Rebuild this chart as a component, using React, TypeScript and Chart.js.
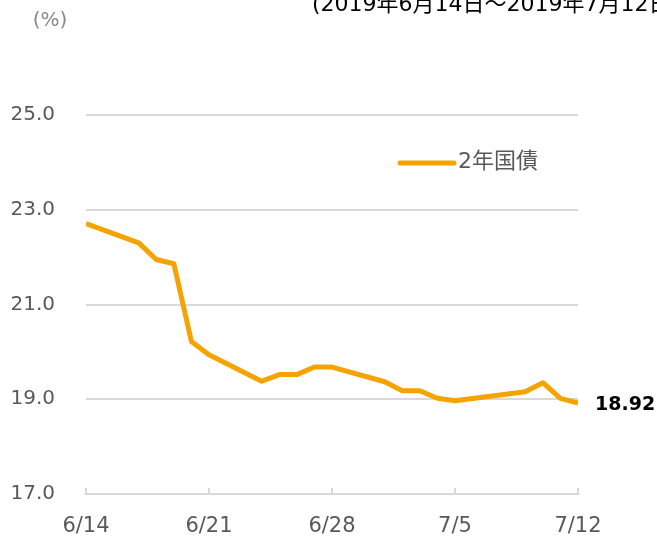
import React, { useEffect, useRef } from "react";
import { Chart, registerables } from "chart.js";

Chart.register(...registerables);

const dates = ["6/14", "6/17", "6/18", "6/19", "6/20", "6/21", "6/24", "6/25", "6/26", "6/27", "6/28", "7/1", "7/2", "7/3", "7/4", "7/5", "7/9", "7/10", "7/11", "7/12"];
const yields = [22.71, 22.3, 21.95, 21.86, 20.22, 19.94, 19.38, 19.52, 19.52, 19.68, 19.68, 19.37, 19.18, 19.18, 19.02, 18.97, 19.16, 19.35, 19.02, 18.92];
const xTickLabels = ["6/14", "6/21", "6/28", "7/5", "7/12"];
const seriesName = "2年国債";
const titleText = "(2019年6月14日〜2019年7月12日)";
const unitText = "(%)";
const lastLabel = "18.92";

const LINE_COLOR = "#F5A300";
const GRID_COLOR = "#d9d9d9";
const TICK_COLOR = "#595959";
const FONT = "'DejaVu Sans', 'Noto Sans CJK JP', sans-serif";

function dayOffset(s: string): number {
  const [m, d] = s.split("/").map(Number);
  return m === 6 ? d - 14 : 16 + d;
}

const extrasPlugin = {
  id: "extras",
  afterDraw(chart: any) {
    const ctx = chart.ctx as CanvasRenderingContext2D;
    const xs = chart.scales.x;
    const ys = chart.scales.y;
    ctx.save();
    // title (clipped at top)
    ctx.fillStyle = "#000000";
    ctx.font = `22px ${FONT}`;
    ctx.textAlign = "left";
    ctx.textBaseline = "alphabetic";
    ctx.fillText(titleText, 312, 11);
    // unit
    ctx.fillStyle = "#888888";
    ctx.font = `20px ${FONT}`;
    ctx.textAlign = "center";
    ctx.textBaseline = "middle";
    ctx.fillText(unitText, 50, 21);
    // legend
    ctx.strokeStyle = LINE_COLOR;
    ctx.lineWidth = 5;
    ctx.lineCap = "round";
    ctx.beginPath();
    ctx.moveTo(400, 163);
    ctx.lineTo(454, 163);
    ctx.stroke();
    ctx.fillStyle = TICK_COLOR;
    ctx.font = `22px ${FONT}`;
    ctx.textAlign = "left";
    ctx.textBaseline = "middle";
    ctx.fillText(seriesName, 458, 162);
    // last value label
    const lx = xs.getPixelForValue(dayOffset(dates[dates.length - 1]));
    const ly = ys.getPixelForValue(yields[yields.length - 1]);
    ctx.fillStyle = "#000000";
    ctx.font = `bold 19px ${FONT}`;
    ctx.textAlign = "left";
    ctx.textBaseline = "middle";
    ctx.fillText(lastLabel, lx + 17, ly + 2);
    ctx.restore();
  },
};

export default function App() {
  const ref = useRef<HTMLCanvasElement | null>(null);
  useEffect(() => {
    document.body.style.margin = "0";
    const canvas = ref.current;
    if (!canvas) return;
    const points = dates.map((d, i) => ({ x: dayOffset(d), y: yields[i] }));
    const chart = new Chart(canvas, {
      type: "line",
      data: {
        datasets: [
          {
            label: seriesName,
            data: points,
            borderColor: LINE_COLOR,
            backgroundColor: LINE_COLOR,
            borderWidth: 5,
            pointRadius: 0,
            tension: 0,
            borderJoinStyle: "round",
            borderCapStyle: "butt",
          },
        ],
      },
      options: {
        animation: false,
        responsive: false,
        maintainAspectRatio: false,
        layout: { padding: { left: 0, right: 79, top: 115, bottom: 0 } },
        plugins: { legend: { display: false }, tooltip: { enabled: false }, title: { display: false } },
        scales: {
          x: {
            type: "linear",
            min: 0,
            max: 28,
            afterFit(scale: any) {
              scale.height = 43;
            },
            afterBuildTicks(scale: any) {
              scale.ticks = xTickLabels.map((l) => ({ value: dayOffset(l) }));
            },
            ticks: {
              autoSkip: false,
              maxRotation: 0,
              padding: 26,
              color: TICK_COLOR,
              font: { family: FONT, size: 21 },
              callback: (v: any) => {
                const lbl = xTickLabels.find((l) => dayOffset(l) === v);
                return lbl ?? "";
              },
            },
            grid: {
              drawOnChartArea: false,
              drawTicks: true,
              tickLength: -6,
              color: GRID_COLOR,
              lineWidth: 2,
            },
            border: { display: true, color: GRID_COLOR, width: 2 },
          },
          y: {
            min: 17,
            max: 25,
            afterFit(scale: any) {
              scale.width = 86;
            },
            ticks: {
              stepSize: 2,
              padding: 31,
              color: TICK_COLOR,
              font: { family: FONT, size: 20 },
              callback: (v: any) => Number(v).toFixed(1),
            },
            grid: { drawTicks: false, color: GRID_COLOR, lineWidth: 2 },
            border: { display: false },
          },
        },
      },
      plugins: [extrasPlugin],
    });
    return () => chart.destroy();
  }, []);
  return (
    <div style={{ width: 657, height: 537 }}>
      <canvas ref={ref} width={657} height={537} style={{ display: "block", width: 657, height: 537 }} />
    </div>
  );
}
